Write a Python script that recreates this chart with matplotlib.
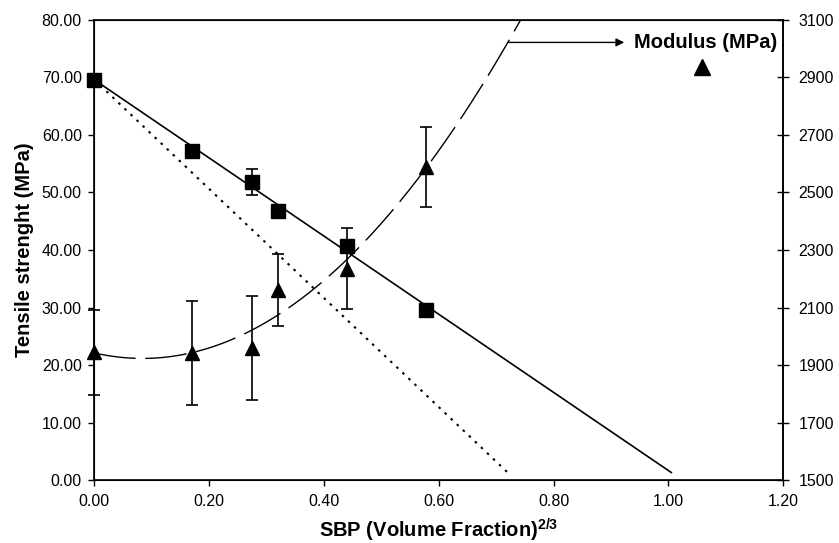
import numpy as np
import matplotlib
matplotlib.use("Agg")
import matplotlib.pyplot as plt

plt.rcParams['font.family'] = ['Liberation Sans', 'DejaVu Sans']
plt.rcParams['mathtext.fontset'] = 'custom'
plt.rcParams['mathtext.bf'] = 'Liberation Sans:bold'
plt.rcParams['mathtext.rm'] = 'Liberation Sans'

# ---- data ----
x_sbp = [0.0, 0.17, 0.275, 0.32, 0.44, 0.577]
tensile = [69.6, 57.3, 51.9, 46.7, 40.7, 29.6]
tensile_err = [0.0, 0.0, 2.25, 0.0, 0.0, 0.0]
modulus = [1944, 1942, 1960, 2161, 2235, 2589]
modulus_err = [147, 181, 180, 125, 141, 139]

# model lines (read endpoints)
solid_x = [0.0, 1.005]
solid_y = [69.6, 1.3]
dotted_x = [0.0, 0.72]
dotted_y = [69.6, 1.3]

x_ticks = [0.0, 0.2, 0.4, 0.6, 0.8, 1.0, 1.2]
y_ticks = [0, 10, 20, 30, 40, 50, 60, 70, 80]
y2_ticks = [1500, 1700, 1900, 2100, 2300, 2500, 2700, 2900, 3100]

fig = plt.figure(figsize=(8.39, 5.43), dpi=100)
ax = fig.add_axes([0.1124, 0.116, 0.8212, 0.8472])
ax.set_xlim(0, 1.2)
ax.set_ylim(0, 80)

ax.plot(solid_x, solid_y, color='black', lw=1.2, zorder=2)
ax.plot(dotted_x, dotted_y, color='black', lw=1.5, dashes=(1.2, 2.8), zorder=2)
ebs = ax.errorbar(x_sbp, tensile, yerr=tensile_err, fmt='s', color='black', ms=9.4,
                  ecolor='black', elinewidth=1.2, capsize=4, capthick=1.2, zorder=3)
for a in ebs.get_children():
    a.set_clip_on(False)

ax.set_xticks(x_ticks)
ax.set_xticklabels([f"{v:.2f}" for v in x_ticks])
ax.set_yticks(y_ticks)
ax.set_yticklabels([f"{v:.2f}" for v in y_ticks])
ax.tick_params(axis='both', labelsize=11.5, direction='out', length=4, width=1, color='black')
ax.tick_params(axis='y', pad=5)
ax.tick_params(axis='x', pad=6)

for s in ax.spines.values():
    s.set_linewidth(1.2)

ax.set_ylabel('Tensile strenght (MPa)', fontsize=14.5, fontweight='bold')
ax.set_xlabel(r'SBP (Volume Fraction)$^{\mathbf{2/3}}$', fontsize=14.5, fontweight='bold')
ax.yaxis.set_label_coords(-0.088, 0.5)
ax.xaxis.set_label_coords(0.5, -0.08)

ax2 = ax.twinx()
ax2.set_ylim(1500, 3100)
ax2.set_yticks(y2_ticks)
ax2.tick_params(axis='y', labelsize=11.5, direction='inout', length=8, width=1, pad=7)
ax2.spines['right'].set_linewidth(1.2)

# polynomial (order 2) trendline through modulus data
coef = np.polyfit(x_sbp, modulus, 2)
xc = np.linspace(0, 0.8, 200)
ax2.plot(xc, np.polyval(coef, xc), color='black', lw=1.0, dashes=(30, 7), zorder=2)
ebm = ax2.errorbar(x_sbp, modulus, yerr=modulus_err, fmt='^', color='black', ms=10,
                   ecolor='black', elinewidth=1.2, capsize=4, capthick=1.2, zorder=3)
for a in ebm.get_children():
    a.set_clip_on(False)

# annotation
ax2.annotate('', xy=(0.923, 3022), xytext=(0.721, 3022),
             arrowprops=dict(arrowstyle='-|>', color='black', lw=1.0,
                             shrinkA=0, shrinkB=0, mutation_scale=12))
ax2.text(0.94, 3022, 'Modulus (MPa)', fontsize=14.5, fontweight='bold',
         ha='left', va='center')
ax2.plot([1.059], [2938], marker='^', color='black', ms=11, clip_on=False)

fig.savefig('out.png', dpi=100)
